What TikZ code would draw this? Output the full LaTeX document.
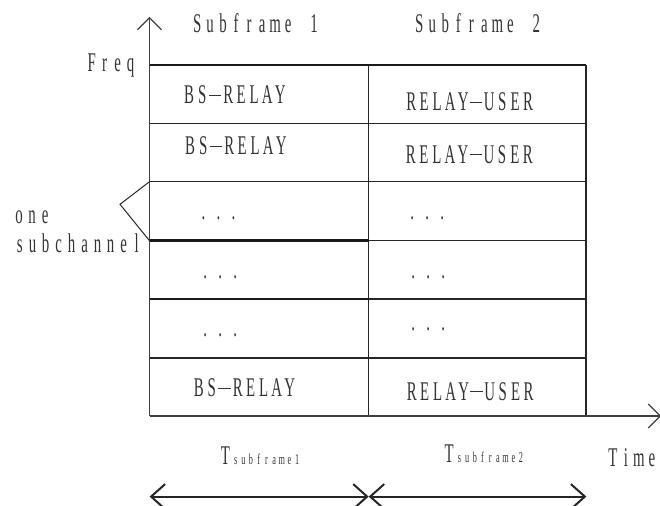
\documentclass[tikz,border=0pt]{standalone}
\usepackage{fontspec}
\setmainfont{Liberation Serif}
\newfontfamily\cellfont[FakeStretch=0.55]{Liberation Serif}
\usetikzlibrary{arrows.meta}

% Set every character of a string in a box of fixed width (half-width cells)
\newlength\cellw
\def\cellloop#1{\ifx#1\relax\else\makebox[\cellw]{#1}\expandafter\cellloop\fi}
\newcommand\celltext[2]{\setlength\cellw{#1}\cellloop#2\relax}
\newcommand\subsz{\fontsize{15bp}{17bp}\selectfont}
% half-width dash, raised to mid cap height
\newcommand\dsh{\rule[7.8bp]{12.5bp}{1.1bp}}

\begin{document}
\begin{tikzpicture}[x=1bp,y=-1bp,
  lbl/.style={inner sep=0pt, anchor=base west, text=black!80,
              font=\cellfont\fontsize{27bp}{30bp}\selectfont},
  grid/.style={line width=1.4bp, black!85},
  heavy/.style={line width=2.4bp, black!90},
  axis/.style={line width=1.1bp, black!75, -{Straight Barb[length=12bp,width=24bp]}},
  span/.style={line width=2bp, black!85,
               {Straight Barb[length=14bp,width=25bp]}-{Straight Barb[length=14bp,width=25bp]}},
  brace/.style={line width=1bp, black!85}]
\useasboundingbox (0,0) rectangle (660,506);

% frame corners and axes
\coordinate (o) at (149.5,416);
\coordinate (ytip) at (149.5,17);
\coordinate (xtip) at (661,416);
\coordinate (tl) at (149.5,65);
\coordinate (tm) at (368.7,65);
\coordinate (tr) at (586,65);
\coordinate (bm) at (368.7,416);
\coordinate (br) at (586,416);

% row separators
\foreach \i/\y in {1/123.3,2/181.7,3/240.7,4/299,5/357.8}{
  \coordinate (L\i) at (149.5,\y);
  \coordinate (M\i) at (368.7,\y);
  \coordinate (R\i) at (586,\y);
}

% grid
\draw[heavy] (tl) -- (tr);
\draw[grid] (tm) -- (bm);
\draw[grid] (tr) -- (br);
\draw[grid] (L1) -- (R1);
\draw[grid] (L2) -- (R2);
\draw[heavy] (L3) -- (M3);
\draw[grid] (M3) -- (R3);
\draw[heavy] (L4) -- (M4);
\draw[grid] (M4) -- (R4);
\draw[grid] (L5) -- (R5);

% axes
\draw[axis] (o) -- (ytip);
\draw[axis] (o) -- (xtip);

% subchannel marker
\coordinate (apex) at (120,204.3);
\draw[brace] (L2) -- (apex) -- (L3);

% subframe durations
\coordinate (a0) at (149.6,496.6);
\coordinate (a1) at (368.7,496.6);
\coordinate (a2) at (586.4,496.6);
\draw[span] (a0) -- (a1);
\draw[span] (a1) -- (a2);

% headings and axis labels
\node[lbl] (sf1) at (190.5,33) {\celltext{13bp}{Subframe~1}};
\node[lbl] (sf2) at (412.6,33) {\celltext{13bp}{Subframe~2}};
\node[lbl] (freq) at (85,71.5) {\celltext{13bp}{Freq}};
\node[lbl] (time) at (606.3,466) {\celltext{13bp}{Time}};
\node[lbl] (one) at (12.5,223.3) {\celltext{13bp}{one}};
\node[lbl] (subch) at (13,253) {\celltext{13bp}{subchannel}};

% cell contents
\node[lbl] (b1) at (182.5,104) {\celltext{13bp}{BS\dsh RELAY}};
\node[lbl] (b2) at (183.5,155) {\celltext{13bp}{BS\dsh RELAY}};
\node[lbl] (b6) at (192,396.5) {\celltext{13bp}{BS\dsh RELAY}};
\node[lbl] (u1) at (404.5,110.7) {\celltext{13bp}{RELAY\dsh USER}};
\node[lbl] (u2) at (404.2,163.3) {\celltext{13bp}{RELAY\dsh USER}};
\node[lbl] (u6) at (405,400) {\celltext{13bp}{RELAY\dsh USER}};

\node[lbl] (d3l) at (195.8,219.5) {\celltext{15bp}{...}};
\node[lbl] (d4l) at (197.5,278) {\celltext{15bp}{...}};
\node[lbl] (d5l) at (197.5,336.3) {\celltext{15bp}{...}};
\node[lbl] (d3r) at (404.5,219.5) {\celltext{15bp}{...}};
\node[lbl] (d4r) at (405.5,278) {\celltext{15bp}{...}};
\node[lbl] (d5r) at (405.5,330.8) {\celltext{15bp}{...}};

% durations
\node[lbl] (t1) at (218.6,464.5) {\makebox[13bp]{T}{\subsz\celltext{7.7bp}{subframe1}}};
\node[lbl] (t2) at (442.4,462.8) {\makebox[13bp]{T}{\subsz\celltext{7.7bp}{subframe2}}};
\end{tikzpicture}
\end{document}
